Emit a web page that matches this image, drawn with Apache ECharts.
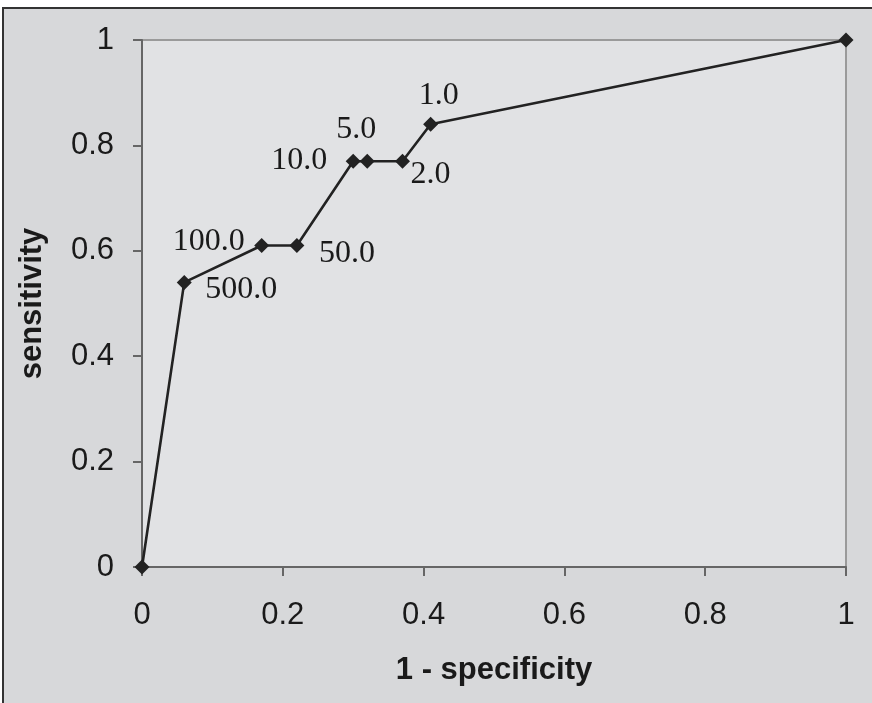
<!DOCTYPE html>
<html>
<head>
<meta charset="utf-8">
<script src="https://cdn.jsdelivr.net/npm/echarts@6/dist/echarts.min.js"></script>
<style>
html,body{margin:0;padding:0;background:#fff;}
#chart{width:872px;height:703px;}
</style>
</head>
<body>
<div id="chart"></div>
<script>
// Data
const fpr = [0, 0.06, 0.17, 0.22, 0.30, 0.32, 0.37, 0.41, 1];
const sensitivity = [0, 0.54, 0.61, 0.61, 0.77, 0.77, 0.77, 0.84, 1];
const cutoffLabels = ['', '500.0', '100.0', '50.0', '10.0', '5.0', '2.0', '1.0', ''];
const xTicks = [0, 0.2, 0.4, 0.6, 0.8, 1];
const yTicks = [0, 0.2, 0.4, 0.6, 0.8, 1];

// label offsets (styling only)
const labelOffsets = [[0,0],[57,7],[-53,-4],[50,8],[-54,-1],[-11,-32],[28,13],[8,-29],[0,0]];

const data = fpr.map((x, i) => ({
  value: [x, sensitivity[i]],
  label: {
    show: cutoffLabels[i] !== '',
    formatter: cutoffLabels[i],
    position: 'inside',
    offset: labelOffsets[i],
    align: 'center',
    verticalAlign: 'middle'
  }
}));

const chart = echarts.init(document.getElementById('chart'), null, {renderer: 'canvas'});
const axisCommon = {
  type: 'value',
  min: 0, max: 1, interval: 0.2,
  splitLine: {show: false},
  axisLine: {show: true, onZero: false, lineStyle: {color: '#666', width: 2}},
  axisTick: {show: true, inside: false, length: 9, lineStyle: {color: '#666', width: 2}},
  nameLocation: 'middle',
  nameTextStyle: {fontFamily: 'Liberation Sans, Arial', fontWeight: 'bold', fontSize: 31, color: '#1a1a1a'}
};
chart.setOption({
  backgroundColor: '#ffffff',
  animation: false,
  graphic: [{
    type: 'rect', z: -100, silent: true,
    shape: {x: 3, y: 8, width: 900, height: 720},
    style: {fill: '#d7d8da', stroke: '#333', lineWidth: 2}
  }],
  grid: {
    left: 142, right: 26, top: 40, bottom: 136,
    show: true, backgroundColor: '#e1e2e4', borderColor: '#9a9a9a', borderWidth: 2
  },
  xAxis: Object.assign({}, axisCommon, {
    name: '1 - specificity',
    nameGap: 88,
    axisLabel: {margin: 33, fontFamily: 'Liberation Sans, Arial', fontSize: 31, color: '#1a1a1a',
      formatter: v => String(xTicks.find(t => Math.abs(t - v) < 1e-9) ?? v)}
  }),
  yAxis: Object.assign({}, axisCommon, {
    name: 'sensitivity',
    nameGap: 94,
    axisLabel: {margin: 28, fontFamily: 'Liberation Sans, Arial', fontSize: 31, color: '#1a1a1a',
      formatter: v => String(yTicks.find(t => Math.abs(t - v) < 1e-9) ?? v)}
  }),
  series: [{
    type: 'line',
    data: data,
    symbol: 'diamond',
    symbolSize: 15,
    showAllSymbol: true,
    itemStyle: {color: '#222'},
    lineStyle: {color: '#222', width: 2.6},
    label: {fontFamily: 'Liberation Serif, Times New Roman', fontSize: 32, color: '#1a1a1a'},
    emphasis: {disabled: true}
  }]
});
</script>
</body>
</html>
